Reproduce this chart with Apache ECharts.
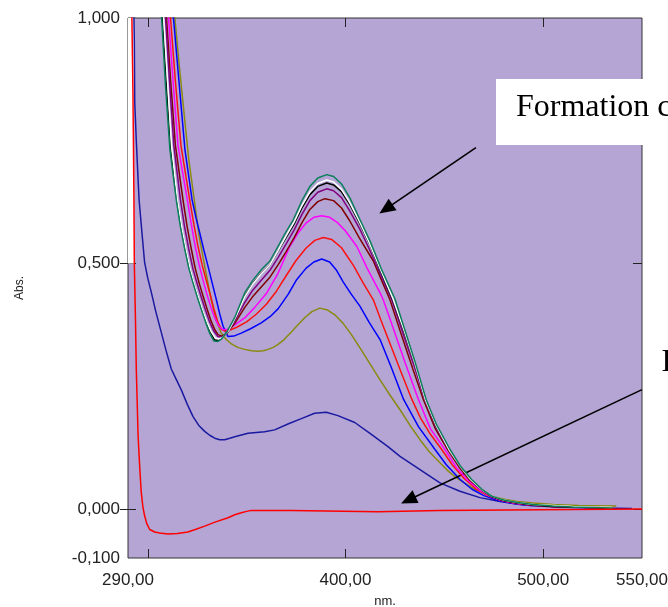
<!DOCTYPE html>
<html>
<head>
<meta charset="utf-8">
<script src="https://cdn.jsdelivr.net/npm/echarts@6/dist/echarts.min.js"></script>
<style>
  html, body { margin: 0; padding: 0; background: #ffffff; }
  #chart { width: 668px; height: 607px; }
</style>
</head>
<body>
<div id="chart"></div>
<script>
// UV-Vis absorption spectra: wavelength (nm) vs absorbance, recorded over a titration.

const xLabelValues = [290, 400, 500, 550];
const xTickValues = [300, 400, 500];
const yLabelValues = [-0.1, 0, 0.5, 1.0];
const yTickValues = [0, 0.5];

// Reagent baseline (red, dips below zero just after 290 nm)
const baselineRed = [
  [291.8, 1.05], [292.5, 0.85], [293.0, 0.63], [293.2, 0.5], [293.8, 0.38], [294.2, 0.284],
  [295.1, 0.149], [296.0, 0.08], [296.7, 0.034], [297.5, 0.005], [298.4, -0.014], [299.5, -0.03],
  [301.0, -0.042], [303.5, -0.047], [306.0, -0.049], [310.2, -0.051], [315.0, -0.05], [320.3, -0.047],
  [324.0, -0.042], [328.8, -0.035], [334.0, -0.027], [340.6, -0.018], [344.0, -0.012], [347.3, -0.008],
  [350.0, -0.005], [352.4, -0.003], [372.6, -0.003], [373.5, -0.006], [416.5, -0.006], [417.3, -0.003],
  [447.5, -0.003], [448.0, 0.0], [550.0, 0.0]
];

// White region at the very start of the scan, [x1, y1, x2, y2] in (nm, Abs)
const startBand = [290, 1.0, 293.0, 0.5];

// First spectrum of the series (navy)
const specNavy = [
  [292.8, 1.05], [293.2, 0.95], [293.4, 0.83], [294.2, 0.75], [295.0, 0.68], [295.6, 0.63],
  [297.0, 0.565], [298.4, 0.502], [300.0, 0.47], [301.8, 0.441], [304.0, 0.403], [306.8, 0.36],
  [309.3, 0.322], [311.9, 0.285], [314.4, 0.264], [317.0, 0.242], [320.0, 0.213], [322.9, 0.188],
  [325.8, 0.17], [328.8, 0.158], [331.3, 0.15], [333.9, 0.144], [336.4, 0.141], [338.9, 0.141],
  [341.5, 0.144], [344.0, 0.147], [350.7, 0.154], [359.1, 0.157], [364.2, 0.161], [370.9, 0.173],
  [377.7, 0.184], [384.4, 0.195], [390.3, 0.197], [396.2, 0.19], [404.7, 0.176], [413.1, 0.152],
  [421.5, 0.127], [427.6, 0.107], [437.7, 0.08], [447.8, 0.053], [457.9, 0.036], [468.0, 0.023],
  [478.2, 0.015], [488.3, 0.009], [500.0, 0.006], [515.0, 0.004], [530.0, 0.002], [545.0, 0.001]
];

const specOlive = [
  [312.0, 1.06], [313.7, 1.0], [316.0, 0.9], [318.5, 0.8], [320.8, 0.71], [323.5, 0.63],
  [326.0, 0.555], [329.0, 0.49], [332.1, 0.426], [334.5, 0.385], [337.2, 0.358], [339.7, 0.345],
  [342.3, 0.336], [345.5, 0.329], [349.0, 0.325], [352.5, 0.322], [355.8, 0.321], [358.5, 0.322],
  [360.8, 0.325], [363.5, 0.329], [365.9, 0.335], [369.0, 0.345], [372.5, 0.36], [376.0, 0.375],
  [379.5, 0.39], [383.0, 0.402], [387.0, 0.409], [391.0, 0.405], [395.0, 0.394], [399.0, 0.377],
  [403.0, 0.355], [408.0, 0.324], [412.5, 0.295], [417.5, 0.263], [422.5, 0.232], [427.6, 0.202],
  [432.5, 0.171], [437.7, 0.141], [442.5, 0.116], [447.8, 0.094], [452.0, 0.077], [456.2, 0.063],
  [460.5, 0.052], [464.7, 0.042], [470.0, 0.032], [475.0, 0.025], [481.0, 0.019], [487.0, 0.015],
  [495.0, 0.012], [505.0, 0.009], [518.0, 0.007], [537.0, 0.006]
];

const specBlue = [
  [311.5, 1.06], [313.0, 1.0], [315.8, 0.87], [318.8, 0.732], [322.4, 0.63], [324.3, 0.595],
  [326.3, 0.562], [328.4, 0.527], [330.5, 0.494], [332.6, 0.46], [334.7, 0.426], [336.4, 0.397],
  [338.1, 0.372], [340.6, 0.351], [343.5, 0.352], [347.3, 0.358], [352.0, 0.367], [357.4, 0.379],
  [362.0, 0.392], [366.0, 0.408], [371.0, 0.437], [375.3, 0.467], [380.0, 0.49], [384.0, 0.503],
  [388.0, 0.509], [392.0, 0.503], [395.5, 0.486], [398.9, 0.462], [403.0, 0.437], [407.3, 0.413],
  [412.0, 0.38], [417.5, 0.345], [423.0, 0.29], [429.4, 0.223], [437.0, 0.167], [445.3, 0.121],
  [451.0, 0.09], [458.0, 0.06], [464.0, 0.04], [470.0, 0.027], [477.0, 0.017], [485.0, 0.011],
  [493.0, 0.007], [503.0, 0.005], [515.0, 0.003], [525.0, 0.002], [535.0, 0.001]
];

const specRed = [
  [310.0, 1.06], [311.5, 1.0], [314.0, 0.87], [316.8, 0.74], [321.2, 0.63], [323.3, 0.58],
  [325.4, 0.535], [327.5, 0.497], [329.6, 0.465], [331.7, 0.435], [333.6, 0.405], [335.5, 0.38],
  [337.3, 0.366], [339.0, 0.362], [342.0, 0.365], [345.0, 0.37], [350.0, 0.381], [355.0, 0.397],
  [360.0, 0.417], [365.0, 0.443], [370.0, 0.475], [375.0, 0.506], [380.0, 0.531], [384.5, 0.547],
  [388.8, 0.553], [393.0, 0.549], [398.0, 0.532], [404.0, 0.496], [409.0, 0.46], [414.1, 0.426],
  [418.0, 0.384], [423.0, 0.332], [428.0, 0.28], [433.6, 0.223], [438.0, 0.185], [443.0, 0.152],
  [448.7, 0.121], [454.0, 0.09], [460.0, 0.062], [466.0, 0.041], [472.0, 0.027], [478.0, 0.018],
  [485.0, 0.012], [493.0, 0.008], [503.0, 0.005], [515.0, 0.004], [525.0, 0.003], [535.0, 0.002]
];

const specMagenta = [
  [309.0, 1.06], [310.5, 1.0], [312.8, 0.87], [315.3, 0.74], [320.0, 0.63], [322.0, 0.58],
  [324.0, 0.535], [326.0, 0.497], [328.0, 0.465], [330.0, 0.436], [332.0, 0.41], [334.0, 0.388],
  [336.0, 0.372], [338.0, 0.365], [340.5, 0.366], [344.0, 0.375], [349.0, 0.389], [354.0, 0.41],
  [360.2, 0.44], [365.9, 0.48], [371.9, 0.535], [376.0, 0.562], [380.0, 0.582], [384.0, 0.594],
  [388.0, 0.597], [392.0, 0.594], [396.0, 0.583], [400.0, 0.566], [405.7, 0.535], [411.0, 0.49],
  [417.5, 0.44], [419.1, 0.426], [424.0, 0.37], [430.0, 0.3], [436.9, 0.223], [443.0, 0.163],
  [450.3, 0.121], [456.0, 0.085], [462.0, 0.058], [468.0, 0.038], [474.0, 0.024], [480.0, 0.016],
  [487.0, 0.011], [495.0, 0.008], [505.0, 0.005], [515.0, 0.004], [525.0, 0.003], [535.0, 0.002]
];

const specMaroon = [
  [308.0, 1.06], [309.5, 1.0], [311.6, 0.87], [314.0, 0.74], [317.8, 0.63], [319.9, 0.575],
  [322.0, 0.53], [324.0, 0.49], [326.0, 0.46], [328.0, 0.433], [330.0, 0.407], [332.0, 0.383],
  [333.8, 0.366], [335.5, 0.355], [337.5, 0.352], [340.0, 0.358], [344.0, 0.378], [349.0, 0.41],
  [353.0, 0.432], [357.4, 0.452], [361.8, 0.472], [365.9, 0.497], [370.0, 0.524], [374.0, 0.552],
  [378.0, 0.583], [382.0, 0.61], [386.0, 0.626], [389.6, 0.632], [394.0, 0.628], [398.0, 0.613],
  [402.0, 0.588], [407.0, 0.552], [414.1, 0.505], [418.0, 0.468], [422.5, 0.426], [428.5, 0.352],
  [434.0, 0.286], [439.5, 0.222], [445.5, 0.163], [451.8, 0.12], [457.5, 0.085], [463.0, 0.058],
  [469.0, 0.038], [474.0, 0.025], [480.0, 0.017], [487.0, 0.012], [495.0, 0.008], [505.0, 0.005],
  [515.0, 0.004], [525.0, 0.003], [535.0, 0.002]
];

const specPurple = [
  [307.5, 1.06], [309.0, 1.0], [311.0, 0.87], [313.2, 0.74], [316.5, 0.63], [318.6, 0.575],
  [320.7, 0.53], [322.8, 0.49], [324.9, 0.46], [327.0, 0.432], [329.1, 0.406], [331.2, 0.382],
  [333.3, 0.363], [335.5, 0.351], [337.5, 0.35], [340.0, 0.357], [344.0, 0.383], [349.0, 0.42],
  [353.0, 0.445], [357.4, 0.466], [361.8, 0.486], [365.9, 0.512], [370.0, 0.54], [374.0, 0.568],
  [378.0, 0.6], [382.0, 0.628], [386.0, 0.645], [390.5, 0.652], [394.0, 0.648], [398.0, 0.634],
  [402.0, 0.608], [407.0, 0.572], [412.0, 0.53], [418.0, 0.475], [423.5, 0.425], [429.5, 0.352],
  [435.0, 0.288], [440.2, 0.222], [446.0, 0.165], [452.3, 0.12], [458.0, 0.086], [463.4, 0.059],
  [469.0, 0.039], [474.0, 0.025], [480.0, 0.017], [487.0, 0.012], [495.0, 0.008], [505.0, 0.005],
  [515.0, 0.004], [525.0, 0.003], [535.0, 0.002]
];

const specBlack = [
  [305.8, 1.08], [307.4, 1.0], [309.4, 0.865], [311.6, 0.735], [314.8, 0.63], [316.9, 0.575],
  [319.1, 0.53], [321.2, 0.49], [323.3, 0.46], [325.4, 0.432], [327.5, 0.406], [329.6, 0.382],
  [331.7, 0.36], [333.8, 0.344], [335.6, 0.343], [337.5, 0.348], [340.5, 0.362], [344.5, 0.391],
  [349.0, 0.433], [353.0, 0.458], [357.4, 0.48], [361.8, 0.497], [365.9, 0.525], [370.0, 0.553],
  [374.0, 0.58], [378.0, 0.613], [382.0, 0.64], [386.0, 0.657], [390.5, 0.664], [394.0, 0.66],
  [398.0, 0.646], [402.2, 0.62], [407.0, 0.583], [412.2, 0.54], [418.0, 0.482], [424.0, 0.425],
  [430.0, 0.357], [435.0, 0.297], [440.6, 0.222], [446.0, 0.168], [452.7, 0.12], [458.0, 0.087],
  [463.6, 0.059], [469.0, 0.039], [474.0, 0.025], [480.0, 0.017], [487.0, 0.012], [495.0, 0.008],
  [505.0, 0.005], [515.0, 0.004], [525.0, 0.003], [535.0, 0.002]
];

const specWhite = [
  [306.5, 1.06], [308.0, 1.0], [310.0, 0.87], [312.0, 0.74], [315.0, 0.63], [317.2, 0.573],
  [319.4, 0.527], [321.5, 0.488], [323.6, 0.457], [325.7, 0.43], [327.8, 0.404], [330.0, 0.38],
  [332.2, 0.36], [334.2, 0.348], [336.0, 0.346], [338.0, 0.35], [341.0, 0.364], [345.0, 0.395],
  [349.0, 0.432], [353.0, 0.457], [357.4, 0.479], [361.8, 0.497], [365.9, 0.526], [370.0, 0.556],
  [374.0, 0.584], [378.0, 0.618], [382.0, 0.646], [386.0, 0.663], [390.5, 0.67], [394.0, 0.666],
  [398.0, 0.651], [402.0, 0.625], [407.0, 0.586], [412.0, 0.543], [418.0, 0.485], [424.0, 0.428],
  [430.0, 0.36], [435.0, 0.298], [440.5, 0.222], [446.0, 0.169], [452.5, 0.12], [458.0, 0.087],
  [463.5, 0.059], [469.0, 0.039], [474.0, 0.026], [480.0, 0.018], [487.0, 0.013], [495.0, 0.009],
  [505.0, 0.007], [515.0, 0.005], [525.0, 0.004], [535.0, 0.003]
];

// Last spectrum (teal green, highest band at ~390 nm)
const specTeal = [
  [305.5, 1.08], [307.0, 1.0], [309.0, 0.86], [311.2, 0.732], [314.4, 0.63], [316.5, 0.575],
  [318.7, 0.529], [320.8, 0.49], [322.9, 0.46], [325.0, 0.432], [327.1, 0.406], [329.2, 0.381],
  [331.3, 0.358], [333.5, 0.342], [335.3, 0.341], [337.2, 0.346], [340.0, 0.36], [344.0, 0.39],
  [349.0, 0.44], [353.0, 0.465], [357.4, 0.487], [361.8, 0.505], [365.9, 0.535], [370.0, 0.565],
  [373.6, 0.589], [378.0, 0.628], [382.0, 0.657], [386.0, 0.674], [390.5, 0.681], [394.0, 0.677],
  [398.0, 0.662], [402.3, 0.633], [407.0, 0.592], [412.4, 0.546], [418.0, 0.49], [425.0, 0.428],
  [430.0, 0.365], [435.0, 0.302], [440.8, 0.223], [446.0, 0.172], [452.9, 0.121], [458.0, 0.088],
  [463.8, 0.06], [469.0, 0.04], [474.0, 0.026], [480.0, 0.018], [487.0, 0.013], [495.0, 0.009],
  [505.0, 0.006], [515.0, 0.004], [525.0, 0.003], [535.0, 0.002]
];

// Annotation arrows, in (nm, Abs) coordinates: [tail, head]
const arrowFormation = [[466, 0.736], [420.5, 0.611]];
const arrowBaseline = [[550, 0.243], [431.8, 0.018]];

const textFormation = 'Formation c';
const textBaseline = 'D';

const fmtX = v => v.toFixed(2).replace('.', ',');
const fmtY = v => v.toFixed(3).replace('.', ',');

function spectrum(name, data, color, z) {
  return {
    name: name,
    type: 'line',
    data: data,
    showSymbol: false,
    symbol: 'none',
    smooth: false,
    clip: true,
    silent: true,
    z: z,
    lineStyle: { color: color, width: 1.5 },
    emphasis: { disabled: true }
  };
}

function arrow(pair) {
  return [
    { coord: pair[0], symbol: 'none' },
    { coord: pair[1], symbol: 'triangle', symbolSize: [14, 16] }
  ];
}

const chart = echarts.init(document.getElementById('chart'), null, { renderer: 'canvas' });

const axisText = { color: '#222', fontFamily: 'Liberation Sans', fontSize: 17 };
const tickStyle = { color: '#222', width: 1 };

const baselineSeries = spectrum('baseline', baselineRed, '#ff0000', 20);
baselineSeries.markLine = {
  silent: true,
  symbol: ['none', 'triangle'],
  label: { show: false },
  lineStyle: { color: '#000', width: 1.6, type: 'solid' },
  emphasis: { disabled: true },
  animation: false,
  data: [arrow(arrowFormation), arrow(arrowBaseline)]
};

// White start band drawn as a custom rectangle through the axis scales
const bandSeries = {
  type: 'custom',
  silent: true,
  z: 1,
  clip: true,
  data: [startBand],
  renderItem: function (params, api) {
    const p1 = api.coord([api.value(0), api.value(1)]);
    const p2 = api.coord([api.value(2), api.value(3)]);
    return {
      type: 'rect',
      shape: { x: p1[0], y: p1[1], width: p2[0] - p1[0], height: p2[1] - p1[1] },
      style: { fill: '#ffffff' }
    };
  }
};

chart.setOption({
  animation: false,
  backgroundColor: '#ffffff',
  grid: {
    left: 128, top: 18, right: 26, bottom: 49,
    outerBoundsMode: 'none',
    containLabel: false,
    show: true,
    backgroundColor: '#b4a5d5',
    borderColor: '#333',
    borderWidth: 1
  },
  xAxis: [
    {
      type: 'value', min: 290, max: 550, position: 'bottom',
      name: 'nm.', nameLocation: 'middle', nameGap: 37,
      nameTextStyle: { color: '#222', fontFamily: 'Liberation Sans', fontSize: 13 },
      axisLine: { show: false, onZero: false },
      splitLine: { show: false },
      axisTick: { show: true, inside: true, length: 9, customValues: xTickValues, lineStyle: tickStyle },
      axisLabel: Object.assign({ customValues: xLabelValues, formatter: fmtX, margin: 14 }, axisText)
    },
    {
      type: 'value', min: 290, max: 550, position: 'top',
      axisLine: { show: false, onZero: false },
      splitLine: { show: false },
      axisTick: { show: true, inside: true, length: 9, customValues: xTickValues, lineStyle: tickStyle },
      axisLabel: { show: false }
    }
  ],
  yAxis: [
    {
      type: 'value', min: -0.1, max: 1.0, position: 'left',
      name: 'Abs.', nameLocation: 'middle', nameGap: 102, nameRotate: 90,
      nameTextStyle: { color: '#222', fontFamily: 'Liberation Sans', fontSize: 12 },
      axisLine: { show: false, onZero: false },
      splitLine: { show: false },
      axisTick: { show: true, inside: false, length: 8, customValues: yTickValues, lineStyle: tickStyle },
      axisLabel: Object.assign({ customValues: yLabelValues, formatter: fmtY, margin: 8 }, axisText)
    },
    {
      type: 'value', min: -0.1, max: 1.0, position: 'left',
      axisLine: { show: false, onZero: false },
      splitLine: { show: false },
      axisTick: { show: true, inside: true, length: 8, customValues: yTickValues, lineStyle: tickStyle },
      axisLabel: { show: false }
    },
    {
      type: 'value', min: -0.1, max: 1.0, position: 'right',
      axisLine: { show: false, onZero: false },
      splitLine: { show: false },
      axisTick: { show: true, inside: true, length: 9, customValues: yTickValues, lineStyle: tickStyle },
      axisLabel: { show: false }
    }
  ],
  series: [
    bandSeries,
    spectrum('s1', specNavy, '#1a1aa0', 2),
    spectrum('s2', specOlive, '#8a8a10', 3),
    spectrum('s3', specBlue, '#0000ff', 4),
    spectrum('s4', specRed, '#ff1010', 5),
    spectrum('s5', specMagenta, '#ff00ff', 6),
    spectrum('s6', specMaroon, '#800000', 7),
    spectrum('s7', specPurple, '#800080', 8),
    spectrum('s8', specBlack, '#000000', 9),
    spectrum('s9', specWhite, '#ffffff', 10),
    spectrum('s10', specTeal, '#0a7f5a', 11),
    baselineSeries
  ],
  graphic: [
    {
      type: 'rect', z: 100, silent: true,
      shape: { x: 496, y: 79, width: 180, height: 66 },
      style: { fill: '#ffffff' }
    },
    {
      type: 'text', z: 101, silent: true,
      style: {
        x: 516, y: 92, text: textFormation,
        font: '32px "Liberation Serif"', fill: '#000',
        textAlign: 'left', textVerticalAlign: 'top'
      }
    },
    {
      type: 'rect', z: 100, silent: true,
      shape: { x: 643, y: 335, width: 30, height: 65 },
      style: { fill: '#ffffff' }
    },
    {
      type: 'text', z: 101, silent: true,
      style: {
        x: 661.5, y: 347, text: textBaseline,
        font: '32px "Liberation Serif"', fill: '#000',
        textAlign: 'left', textVerticalAlign: 'top'
      }
    }
  ]
});
</script>
</body>
</html>
